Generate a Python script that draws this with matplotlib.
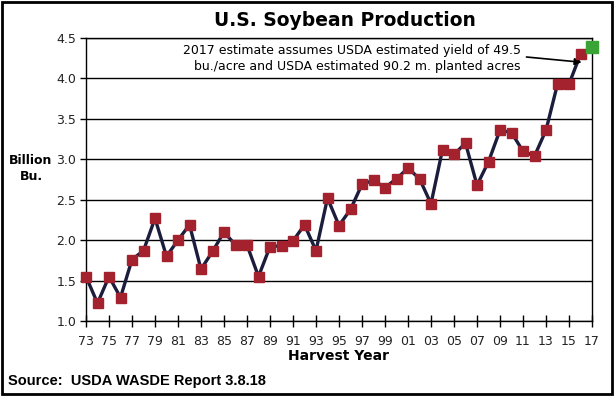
import matplotlib.pyplot as plt
from matplotlib.patches import Rectangle

# harvest years and production (billion bushels)
years = list(range(1973, 2017))
production = [1.55, 1.22, 1.55, 1.29, 1.76, 1.87, 2.27, 1.80, 2.00, 2.19,
              1.64, 1.86, 2.10, 1.94, 1.94, 1.55, 1.92, 1.93, 1.99, 2.19,
              1.87, 2.52, 2.18, 2.38, 2.69, 2.74, 2.65, 2.76, 2.89, 2.76,
              2.45, 3.12, 3.06, 3.20, 2.68, 2.97, 3.36, 3.33, 3.10, 3.04,
              3.36, 3.93, 3.93, 4.30]
est_year = [2017]
est_value = [4.39]
tick_years = list(range(1973, 2018, 2))
tick_labels = [str(y)[-2:] for y in tick_years]
y_ticks = [1.0, 1.5, 2.0, 2.5, 3.0, 3.5, 4.0, 4.5]

fig = plt.figure(figsize=(6.16, 3.96), dpi=100)
ax = fig.add_axes([86 / 616, 1 - 321 / 396, (592 - 86) / 616, (321 - 38) / 396])

ax.plot(years, production, color='#1c1c3c', lw=2.4, zorder=3)
ax.plot(years, production, ls='none', marker='s', ms=6.8, color='#a3222e',
        mec='#a3222e', zorder=4, clip_on=False)
ax.plot(est_year, est_value, ls='none', marker='s', ms=8.5, color='#3aa335',
        zorder=4, clip_on=False)

ax.set_xlim(1973, 2017)
ax.set_ylim(1.0, 4.5)
ax.set_xticks(tick_years)
ax.set_xticklabels(tick_labels)
ax.set_yticks(y_ticks)
ax.set_yticklabels([f'{v:.1f}' for v in y_ticks])
ax.yaxis.grid(True, color='black', lw=1)
ax.set_axisbelow(True)
for s in ax.spines.values():
    s.set_linewidth(1)
ax.tick_params(axis='x', direction='inout', length=8, width=1, labelsize=9,
               pad=6, labelcolor='#222222')
ax.tick_params(axis='y', direction='out', length=4, width=1, labelsize=9,
               pad=3, labelcolor='#222222')

ax.set_xlabel('Harvest Year', fontsize=10, fontweight='bold', labelpad=1)

fig.text(0.56, 1 - 20 / 396, 'U.S. Soybean Production', ha='center', va='center',
         fontsize=13.5, fontweight='bold')
fig.text(31 / 616, 1 - 168 / 396, 'Billion\nBu.', ha='center', va='center',
         fontsize=9, fontweight='bold', linespacing=1.3)
fig.text(8 / 616, 1 - 381 / 396, 'Source:  USDA WASDE Report 3.8.18',
         ha='left', va='center', fontsize=10.5, fontweight='bold',
         family='Liberation Sans')

# annotation for the 2017 estimate
ax.text(2010.8, 4.245, '2017 estimate assumes USDA estimated yield of 49.5\n'
        'bu./acre and USDA estimated 90.2 m. planted acres',
        ha='right', va='center', fontsize=9, linespacing=1.25,
        multialignment='right')
ax.annotate('', xy=(2016.1, 4.20), xytext=(2011.3, 4.265),
            arrowprops=dict(arrowstyle='-|>', color='black', lw=1.2,
                            mutation_scale=10, shrinkA=0, shrinkB=0))

fig.patches.append(Rectangle((0.003, 0.004), 0.99, 0.992, transform=fig.transFigure,
                             fill=False, edgecolor='black', lw=2))

fig.savefig('out.png', dpi=100)
